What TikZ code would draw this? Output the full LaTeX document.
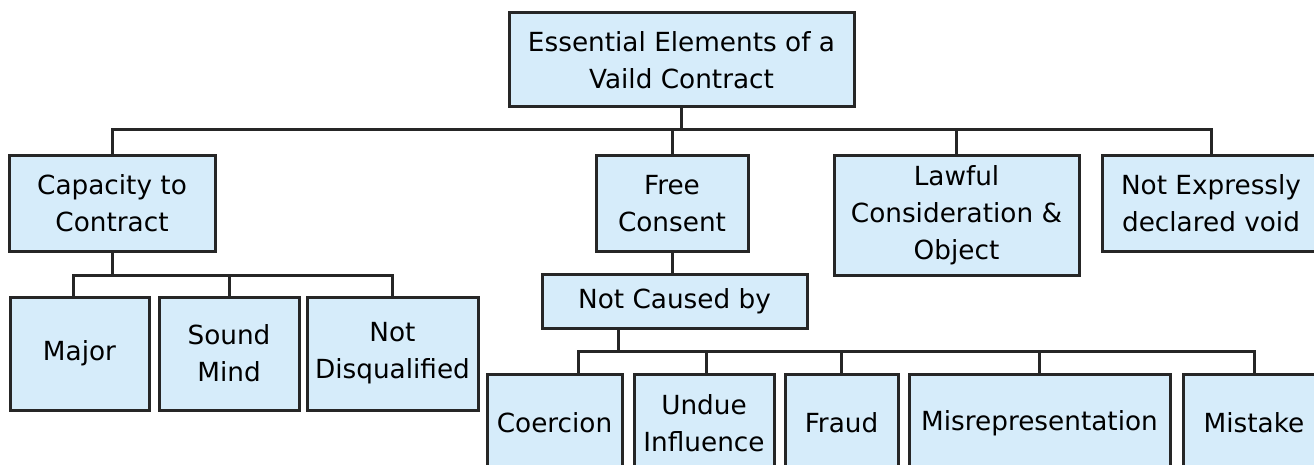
\documentclass[tikz,border=0pt]{standalone}
\usepackage{fontspec}
\setmainfont{DejaVu Sans}
\definecolor{boxfill}{HTML}{D6ECFA}
\definecolor{boxline}{HTML}{262626}
\begin{document}
\begin{tikzpicture}[x=1pt,y=-1pt,
  box/.style={draw=boxline, fill=boxfill, line width=3pt, align=center,
    inner sep=0pt, font=\fontsize{26.3}{37}\selectfont, text=black},
  link/.style={draw=boxline, line width=3pt}]
\useasboundingbox (0,0) rectangle (1314,465);
\clip (0,0) rectangle (1314,465);

% root
\node[box, minimum width=345pt, minimum height=94pt] (top) at (681.5,60) {Essential Elements of a\\Vaild Contract};

% first level
\node[box, minimum width=206pt, minimum height=95pt] (cap) at (112,203.5) {Capacity to\\Contract};
\node[box, minimum width=152pt, minimum height=95pt] (free) at (672,203.5) {Free\\Consent};
\node[box, minimum width=245pt, minimum height=119pt] (lawful) at (956.5,215.5) {Lawful\\Consideration \&\\Object};
\node[box, minimum width=218pt, minimum height=95pt] (notexp) at (1211,203.5) {Not Expressly\\declared void};

% capacity branch
\node[box, minimum width=139pt, minimum height=113pt] (major) at (79.5,353.5) {Major};
\node[box, minimum width=140pt, minimum height=113pt] (sound) at (229,353.5) {Sound\\Mind};
\node[box, minimum width=171pt, minimum height=113pt] (notdis) at (392.5,353.5) {Not\\Disqualified};

% consent branch
\node[box, minimum width=265pt, minimum height=54pt] (notcaused) at (674.5,301) {Not Caused by};
\node[box, minimum width=135pt, minimum height=98pt] (coercion) at (554.5,423) {Coercion};
\node[box, minimum width=140pt, minimum height=98pt] (undue) at (704,423) {Undue\\Influence};
\node[box, minimum width=113pt, minimum height=98pt] (fraud) at (841.5,423) {Fraud};
\node[box, minimum width=261pt, minimum height=98pt] (misrep) at (1039.5,423) {Misrepresentation};
\node[box, minimum width=142pt, minimum height=98pt] (mistake) at (1254,423) {Mistake};

% root bus
\draw[link] (top.south) -- (top.south |- 0,130);
\draw[link] (cap.north) -- (cap.north |- 0,130) -- (notexp.north |- 0,130) -- (notexp.north);
\draw[link] (free.north) -- (free.north |- 0,130);
\draw[link] (lawful.north) -- (lawful.north |- 0,130);

% capacity bus
\draw[link] (cap.south) -- (cap.south |- 0,275);
\draw[link] (major.north -| 73,0) -- (73,275) -- (notdis.north |- 0,275) -- (notdis.north);
\draw[link] (sound.north) -- (sound.north |- 0,275);

% consent bus
\draw[link] (free.south) -- (free.south |- notcaused.north);
\draw[link] (notcaused.south -| 618,0) -- (618,351);
\draw[link] (coercion.north -| 578,0) -- (578,351) -- (mistake.north |- 0,351) -- (mistake.north);
\draw[link] (undue.north -| 706,0) -- (706,351);
\draw[link] (fraud.north) -- (fraud.north |- 0,351);
\draw[link] (misrep.north) -- (misrep.north |- 0,351);
\end{tikzpicture}
\end{document}
